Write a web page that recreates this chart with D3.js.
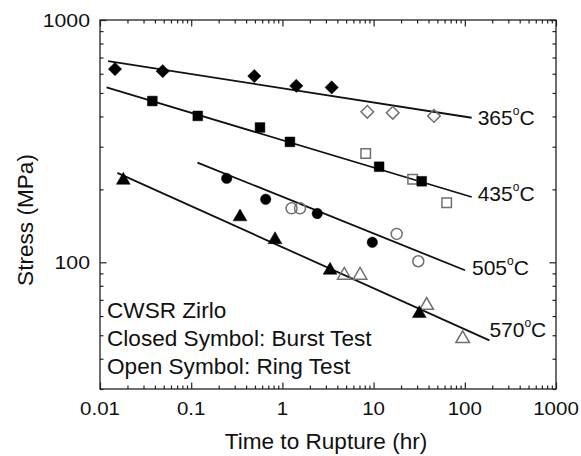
<!DOCTYPE html>
<html lang="en">
<head>
<meta charset="utf-8">
<title>Stress vs Time to Rupture</title>
<style>
  body { margin: 0; background: #fff; }
  svg { display: block; }
  text { font-family: "Liberation Sans", Arial, sans-serif; fill: #111; }
</style>
<script src="https://d3js.org/d3.v7.min.js"></script>
</head>
<body>
<script>
// values: [time (hr), stress (MPa)]
const burst365 = [[0.0146, 627], [0.0487, 615], [0.492, 587], [1.42, 535], [3.47, 527]]
const ring365 = [[8.53, 418], [16.2, 414], [45.9, 402]]
const burst435 = [[0.0375, 463], [0.118, 402], [0.568, 360], [1.21, 314], [11.5, 248], [33.7, 216]]
const ring435 = [[8.19, 281], [26.8, 220], [63.3, 176]]
const burst505 = [[0.245, 222], [0.656, 182], [2.41, 159], [9.68, 121]]
const ring505 = [[1.26, 167], [1.56, 167], [17.9, 131], [30.9, 101]]
const burst570 = [[0.018, 218], [0.343, 154], [0.83, 124], [3.33, 92.7], [31.7, 61.4]]
const ring570 = [[4.77, 88.4], [7.1, 88.4], [38.2, 66.4], [94.8, 48.4]]

// fitted lines, start and end
const fit365 = [[0.0123, 677], [119, 395]]
const fit435 = [[0.0118, 527], [119, 186]]
const fit505 = [[0.117, 258], [100.5, 92.7]]
const fit570 = [[0.0155, 234], [186, 47.6]]

const tempLabels = ["365", "435", "505", "570"]
const xTickLabels = [0.01, 0.1, 1, 10, 100, 1000]
const yTickLabels = [100, 1000]
const notes = ["CWSR Zirlo", "Closed Symbol: Burst Test", "Open Symbol: Ring Test"]

let width = 581
let height = 456
let margin = {top: 20, right: 25, bottom: 67, left: 100}

let svg = d3.select("body").append("svg")
    .attr("width", width)
    .attr("height", height)

let x = d3.scaleLog().domain([0.01, 1000]).range([margin.left, width - margin.right])
let y = d3.scaleLog().domain([30, 1000]).range([height - margin.bottom, margin.top])

let addText = (g, px, py, str, size, anchor, sx) => {
    return g.append("text")
        .attr("transform", `translate(${px},${py}) scale(${sx || 1},1)`)
        .attr("text-anchor", anchor || "start")
        .attr("font-size", size)
        .text(str)
}

// axes: major and minor ticks, all pointing inward
let isMajor = (d) => Math.abs(Math.log10(d) - Math.round(Math.log10(d))) < 1e-6
let xt = x.ticks()
let yt = y.ticks()
let axisDefs = [
    [d3.axisBottom, x, xt, `translate(0,${height - margin.bottom})`],
    [d3.axisTop, x, xt, `translate(0,${margin.top})`],
    [d3.axisLeft, y, yt, `translate(${margin.left},0)`],
    [d3.axisRight, y, yt, `translate(${width - margin.right},0)`]
]
axisDefs.forEach(([axisFn, sc, ticks, tr]) => {
    let major = ticks.filter(isMajor)
    let minor = ticks.filter((d) => !isMajor(d))
    ;[[major, 6.5], [minor, 3.5]].forEach(([vals, len]) => {
        let g = svg.append("g")
            .attr("transform", tr)
            .call(axisFn(sc).tickValues(vals).tickSize(-len).tickFormat(""))
        g.select(".domain").remove()
        g.selectAll("line").attr("stroke", "#222").attr("stroke-width", 1.2)
    })
})

svg.append("rect")
    .attr("x", margin.left)
    .attr("y", margin.top)
    .attr("width", width - margin.left - margin.right)
    .attr("height", height - margin.top - margin.bottom)
    .attr("fill", "none")
    .attr("stroke", "#222")
    .attr("stroke-width", 1.3)

// tick labels
xTickLabels.forEach((d) => addText(svg, x(d), height - margin.bottom + 26, String(d), 19, "middle", 1.08))
yTickLabels.forEach((d) => addText(svg, margin.left - 10, y(d) + 6.5, String(d), 19, "end", 1.12))

// axis titles
addText(svg, 326, 449, "Time to Rupture (hr)", 22.6, "middle")
svg.append("text")
    .attr("transform", "translate(33,220) rotate(-90)")
    .attr("text-anchor", "middle")
    .attr("font-size", 22.6)
    .text("Stress (MPa)")

// fit lines
let fits = [fit365, fit435, fit505, fit570]
let line = d3.line().x((d) => x(d[0])).y((d) => y(d[1]))
svg.selectAll(".fit")
    .data(fits)
    .enter()
    .append("path")
    .attr("class", "fit")
    .attr("d", line)
    .attr("fill", "none")
    .attr("stroke", "#111")
    .attr("stroke-width", 1.8)

// temperature labels at the end of each line
let labelShift = [[6, 7], [6, 4], [7, 5], [0, -3]]
fits.forEach((f, i) => {
    let end = f[1]
    let t = addText(svg, x(end[0]) + labelShift[i][0], y(end[1]) + labelShift[i][1], "", 21, "start")
    t.append("tspan").text(tempLabels[i])
    t.append("tspan").attr("font-size", 12).attr("dy", -10).text("o")
    t.append("tspan").attr("dy", 10).text("C")
})

// symbols
let shapes = {
    diamond: (s) => d3.symbol().type(d3.symbolSquare).size(s)(),
    square: (s) => d3.symbol().type(d3.symbolSquare).size(s)(),
    circle: (s) => d3.symbol().type(d3.symbolCircle).size(s)(),
    triangle: (s) => d3.symbol().type(d3.symbolTriangle).size(s)()
}

let drawPoints = (data, shape, size, open) => {
    svg.append("g")
        .selectAll("path")
        .data(data)
        .enter()
        .append("path")
        .attr("d", shapes[shape](size))
        .attr("transform", (d) => `translate(${x(d[0])},${y(d[1])})` + (shape === "diamond" ? " rotate(45)" : ""))
        .attr("fill", open ? "none" : "#000")
        .attr("stroke", open ? "#707070" : "#000")
        .attr("stroke-width", open ? 1.5 : 0.5)
}

drawPoints(ring365, "diamond", 80, true)
drawPoints(ring435, "square", 90, true)
drawPoints(ring505, "circle", 95, true)
drawPoints(ring570, "triangle", 80, true)

drawPoints(burst365, "diamond", 88, false)
drawPoints(burst435, "square", 95, false)
drawPoints(burst505, "circle", 85, false)
drawPoints(burst570, "triangle", 82, false)

// notes, lower left
notes.forEach((n, i) => addText(svg, margin.left + 7, 317.5 + i * 28, n, 22.6, "start"))
</script>
</body>
</html>
